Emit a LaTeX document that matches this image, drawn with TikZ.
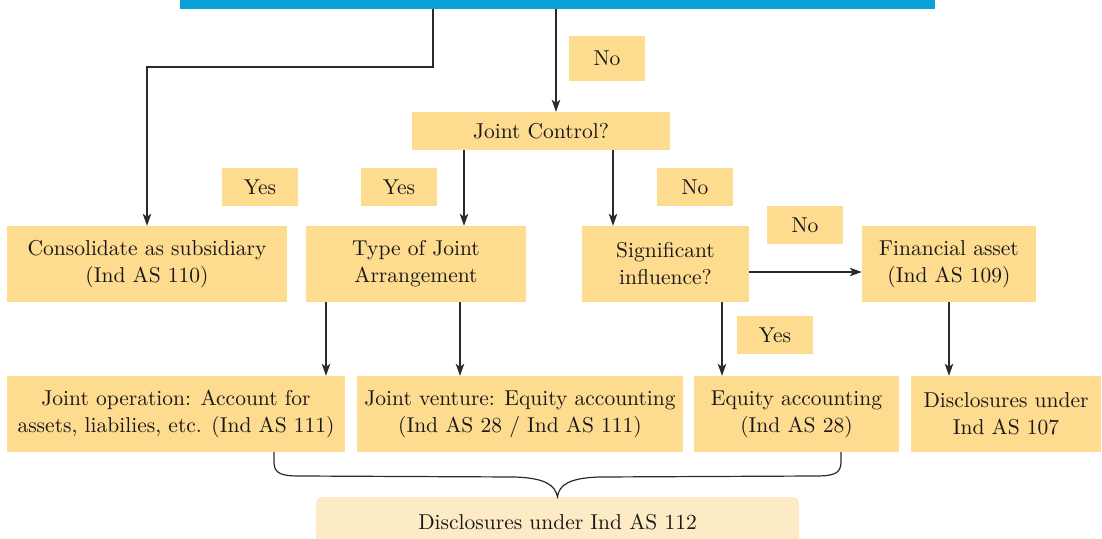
\documentclass[tikz,border=0pt]{standalone}
\usepackage{fontspec}
\setmainfont{lmroman10-regular.otf}
\usetikzlibrary{arrows.meta}
\definecolor{boxfill}{HTML}{FDDB8F}
\definecolor{lightfill}{HTML}{FDEBC5}
\definecolor{barblue}{HTML}{0AA0D8}
\definecolor{ink}{HTML}{1A1718}
\definecolor{linec}{HTML}{2A2A2A}
\begin{document}
\begin{tikzpicture}[x=1pt,y=-1pt,
  box/.style={fill=boxfill, inner sep=0pt, align=center, text=ink,
    font=\fontsize{21.5}{27}\selectfont},
  lbl/.style={box, minimum width=76pt, minimum height=38pt},
  conn/.style={draw=linec, line width=1.2pt, -{Stealth[length=12pt,width=8.5pt,inset=3pt]}},
  plain/.style={draw=linec, line width=1.2pt}]
\useasboundingbox (0,0) rectangle (1102,538);
% top bar
\node[fill=barblue, minimum width=755pt, minimum height=9pt, inner sep=0pt] (bar) at (557.5,4.5) {};
% labels
\node[lbl, minimum height=45pt] (noA) at (607,58.5) {No};
\node[lbl] (yes1) at (260,187) {Yes};
\node[lbl] (yes2) at (399,187) {Yes};
\node[lbl] (no2) at (695,187) {No};
\node[lbl] (no3) at (805,225) {No};
\node[lbl] (yes3) at (775,335) {Yes};
% decision boxes
\node[box, minimum width=258pt, minimum height=38pt] (jc) at (541,131) {Joint Control?};
\node[box, minimum width=280pt, minimum height=76pt] (cons) at (147,264) {Consolidate as subsidiary\\(Ind AS 110)};
\node[box, minimum width=220pt, minimum height=76pt] (type) at (416,264) {Type of Joint\\Arrangement};
\node[box, minimum width=167pt, minimum height=76pt] (sig) at (665.5,264) {Significant\\influence?};
\node[box, minimum width=174pt, minimum height=76pt] (fin) at (949,264) {Financial asset\\(Ind AS 109)};
% outcome boxes
\node[box, minimum width=338pt, minimum height=76pt] (jop) at (176,414) {Joint operation: Account for\\assets, liabilies, etc. (Ind AS 111)};
\node[box, minimum width=326pt, minimum height=76pt] (jv) at (520,414) {Joint venture: Equity accounting\\(Ind AS 28 / Ind AS 111)};
\node[box, minimum width=205pt, minimum height=76pt] (eq) at (796.5,414) {Equity accounting\\(Ind AS 28)};
\node[box, minimum width=190pt, minimum height=76pt] (d107) at (1006,414) {Disclosures under\\Ind AS 107};
\node[box, fill=lightfill, rounded corners=6pt, minimum width=483pt, minimum height=50pt, text depth=0pt] (d112) at (557.5,522) {Disclosures under Ind AS 112};
% connectors
\coordinate (k1) at (433,67);
\draw[conn] (bar.south -| k1) -- (k1) -| (cons.north);
\coordinate (k2) at (556,0);
\draw[conn] (bar.south -| k2) -- (jc.north -| k2);
\coordinate (k3) at (464,0);
\draw[conn] (jc.south -| k3) -- (type.north -| k3);
\coordinate (k4) at (613,0);
\draw[conn] (jc.south -| k4) -- (sig.north -| k4);
\coordinate (k5) at (0,272);
\draw[conn] (sig.east |- k5) -- (fin.west |- k5);
\coordinate (k6) at (326,0);
\draw[conn] (type.south -| k6) -- (jop.north -| k6);
\coordinate (k7) at (460,0);
\draw[conn] (type.south -| k7) -- (jv.north -| k7);
\coordinate (k8) at (722,0);
\draw[conn] (sig.south -| k8) -- (eq.north -| k8);
\coordinate (k9) at (949,0);
\draw[conn] (fin.south -| k9) -- (d107.north -| k9);
% brace
\coordinate (bl) at (274,0);
\coordinate (br) at (841,0);
\draw[plain] (jop.south -| bl) -- (274,462) .. controls (274,474) and (282,476) .. (300,476)
  -- (515,477) .. controls (545,478) and (555,485) .. (d112.north)
  .. controls (559,485) and (569,478) .. (599,477) -- (815,476)
  .. controls (833,476) and (841,474) .. (841,462) -- (eq.south -| br);
\end{tikzpicture}
\end{document}
